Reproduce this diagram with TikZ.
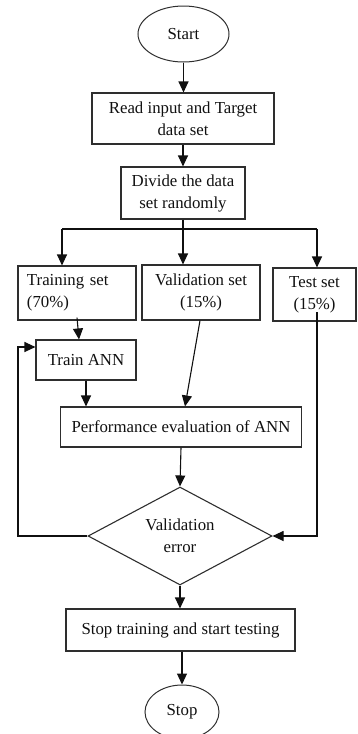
\documentclass[tikz,border=0pt]{standalone}
\usepackage{fontspec}
\setmainfont{Liberation Serif}
\usetikzlibrary{arrows.meta,calc,shapes.geometric}
\definecolor{annInk}{HTML}{101010}
\definecolor{annEdge}{HTML}{2E2E2E}
\tikzset{
  ann font/.style={font=\fontsize{16.8}{22}\selectfont, text=annInk},
  ann box/.style={
    rectangle, draw=annEdge, line width=1.1pt,
    ann font, align=center, inner sep=2pt
  },
  ann term/.style={
    ellipse, draw=annEdge, line width=1pt,
    ann font, inner sep=0pt
  },
  ann decision/.style={
    diamond, aspect=2, draw=annEdge, line width=1.1pt,
    ann font, align=center, inner sep=0pt
  },
  ann line/.style={draw=annInk, line width=1.1pt},
  ann arrow/.style={
    draw=annInk,
    line width=1.1pt,
    -{Triangle[length=11pt,width=10pt]}
  }
}

\begin{document}
\begin{tikzpicture}[x=1pt,y=-1pt]
  \useasboundingbox (0,0) rectangle (357,734);

  \node[ann term, minimum width=91pt, minimum height=56pt] (start) at (183.5,34) {Start};
  \node[ann box, minimum width=182pt, minimum height=51pt] (read) at (183,118.5) {Read input and Target\\data set};
  \node[ann box, minimum width=124pt, minimum height=52pt] (divide) at (183,193) {Divide the data\\set randomly};
  \node[ann box, minimum width=118pt, minimum height=54pt, align=left, text width=100pt] (trainset) at (77,293) {Training set\\(70\%)};
  \node[ann box, minimum width=118pt, minimum height=55pt] (validset) at (201,292.5) {Validation set\\(15\%)};
  \node[ann box, minimum width=83pt, minimum height=53pt] (testset) at (314.5,294.5) {Test set\\(15\%)};
  \node[ann box, minimum width=100pt, minimum height=40pt] (trainann) at (86,360) {Train ANN};
  \node[ann box, minimum width=241pt, minimum height=40pt] (perf) at (181,427) {Performance evaluation of ANN};
  \node[ann decision, minimum width=184pt, minimum height=98pt] (valerr) at (180,536) {Validation\\error};
  \node[ann box, minimum width=229pt, minimum height=42pt] (stoptrain) at (180.5,630) {Stop training and start testing};
  \node[ann term, minimum width=74pt, minimum height=54pt] (stop) at (182,712) {Stop};

  % top of the chart
  \draw[ann arrow] (start.south) -- (start.south |- read.north);
  \draw[ann arrow] (read.south) -- (read.south |- divide.north);

  % split into the three sets
  \coordinate (split) at ($(divide.south)+(0,10)$);
  \coordinate (splitL) at (62,229);
  \coordinate (splitR) at (317,229);
  \draw[ann line] (divide.south) -- (split);
  \draw[ann line] (splitL) -- (splitR);
  \draw[ann arrow] (splitL) -- (splitL |- trainset.north);
  \draw[ann arrow] (split) -- (split |- validset.north);
  \draw[ann arrow] (splitR) -- (splitR |- testset.north);

  \draw[ann arrow] ($(trainset.south)+(0,-3)$) -- ($(trainann.north)+(-7,0)$);
  \draw[ann arrow] ($(validset.south)+(-1,0)$) -- ($(perf.north)+(4,0)$);
  \draw[ann arrow] (trainann.south) -- (trainann.south |- perf.north);
  \draw[ann arrow] (perf.south) -- (valerr.north);

  % feedback loop and test branch
  \coordinate (loopturn) at (18,347);
  \draw[ann arrow] (valerr.west) -| (loopturn) -- (loopturn -| trainann.west);
  \coordinate (testdrop) at (317,312);
  \draw[ann arrow] (testdrop) |- (valerr.east);

  \draw[ann arrow] (valerr.south) -- (valerr.south |- stoptrain.north);
  \draw[ann arrow] (stoptrain.south -| stop.north) -- (stop.north);
\end{tikzpicture}
\end{document}
